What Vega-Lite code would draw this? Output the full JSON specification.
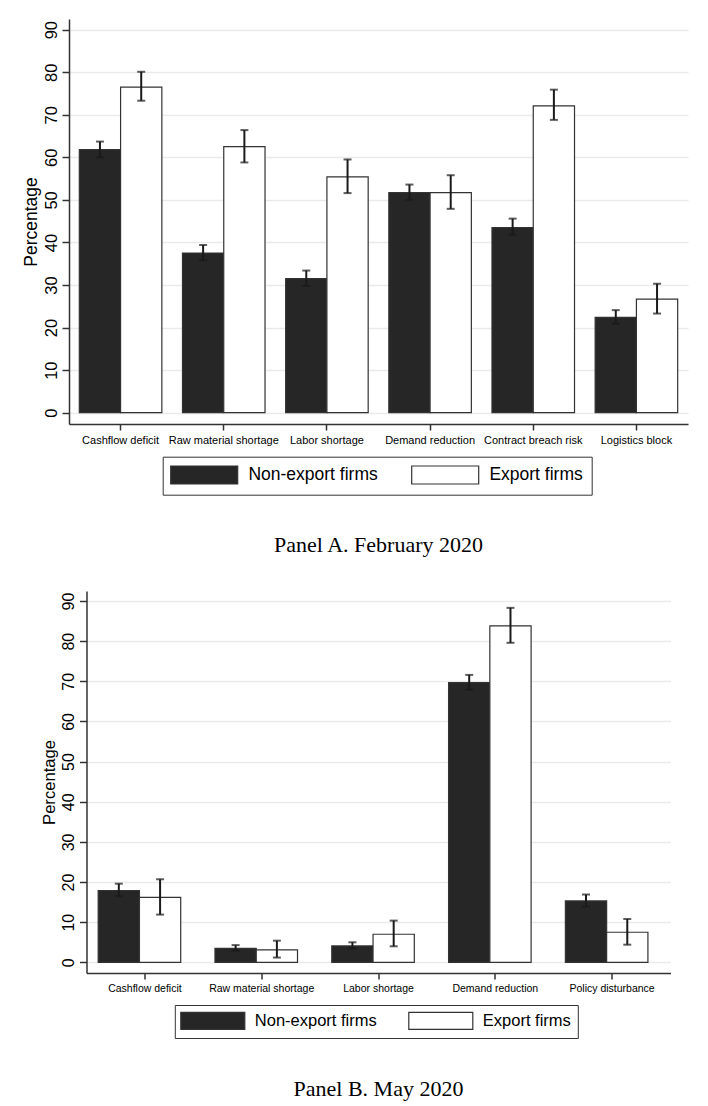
{
  "$schema": "https://vega.github.io/schema/vega-lite/v6.json",
  "padding": {"top": 19, "left": 22, "right": 5, "bottom": 5},
  "background": "white",
  "center": true,
  "spacing": 34,
  "datasets": {
    "feb": [
      {"cat": "Cashflow deficit", "grp": "Non-export firms", "pct": 61.8, "lo": 60.0, "hi": 63.7},
      {"cat": "Cashflow deficit", "grp": "Export firms", "pct": 76.5, "lo": 73.3, "hi": 80.1},
      {"cat": "Raw material shortage", "grp": "Non-export firms", "pct": 37.5, "lo": 35.8, "hi": 39.4},
      {"cat": "Raw material shortage", "grp": "Export firms", "pct": 62.5, "lo": 58.8, "hi": 66.4},
      {"cat": "Labor shortage", "grp": "Non-export firms", "pct": 31.5, "lo": 29.8, "hi": 33.4},
      {"cat": "Labor shortage", "grp": "Export firms", "pct": 55.4, "lo": 51.6, "hi": 59.5},
      {"cat": "Demand reduction", "grp": "Non-export firms", "pct": 51.7, "lo": 50.0, "hi": 53.6},
      {"cat": "Demand reduction", "grp": "Export firms", "pct": 51.7, "lo": 47.9, "hi": 55.8},
      {"cat": "Contract breach risk", "grp": "Non-export firms", "pct": 43.5, "lo": 41.8, "hi": 45.6},
      {"cat": "Contract breach risk", "grp": "Export firms", "pct": 72.1, "lo": 68.8, "hi": 75.9},
      {"cat": "Logistics block", "grp": "Non-export firms", "pct": 22.4, "lo": 20.9, "hi": 24.1},
      {"cat": "Logistics block", "grp": "Export firms", "pct": 26.7, "lo": 23.3, "hi": 30.3}
    ],
    "may": [
      {"cat": "Cashflow deficit", "grp": "Non-export firms", "pct": 17.9, "lo": 16.5, "hi": 19.6},
      {"cat": "Cashflow deficit", "grp": "Export firms", "pct": 16.2, "lo": 11.9, "hi": 20.7},
      {"cat": "Raw material shortage", "grp": "Non-export firms", "pct": 3.5, "lo": 2.9, "hi": 4.3},
      {"cat": "Raw material shortage", "grp": "Export firms", "pct": 3.1, "lo": 1.2, "hi": 5.4},
      {"cat": "Labor shortage", "grp": "Non-export firms", "pct": 4.1, "lo": 3.5, "hi": 5.0},
      {"cat": "Labor shortage", "grp": "Export firms", "pct": 7.0, "lo": 4.0, "hi": 10.4},
      {"cat": "Demand reduction", "grp": "Non-export firms", "pct": 69.7, "lo": 67.9, "hi": 71.6},
      {"cat": "Demand reduction", "grp": "Export firms", "pct": 83.8, "lo": 79.6, "hi": 88.3},
      {"cat": "Policy disturbance", "grp": "Non-export firms", "pct": 15.3, "lo": 13.9, "hi": 16.9},
      {"cat": "Policy disturbance", "grp": "Export firms", "pct": 7.5, "lo": 4.4, "hi": 10.8}
    ]
  },
  "vconcat": [
    {
      "width": 619,
      "height": 405,
      "data": {"name": "feb"},
      "title": {"text": "Panel A. February 2020", "orient": "bottom", "anchor": "middle", "font": "Liberation Serif", "fontSize": 22, "fontWeight": "normal", "color": "black", "offset": 40},
      "encoding": {
        "x": {"field": "cat", "type": "nominal", "sort": ["Cashflow deficit", "Raw material shortage", "Labor shortage", "Demand reduction", "Contract breach risk", "Logistics block"],
              "scale": {"paddingInner": 0.2, "paddingOuter": 0.1},
              "axis": {"title": null, "labelAngle": 0, "labelFontSize": 11, "labelLimit": 0, "tickSize": 6, "labelPadding": 4, "domainWidth": 1.5, "tickWidth": 1.5}},
        "xOffset": {"field": "grp", "type": "nominal", "sort": ["Non-export firms", "Export firms"], "scale": {"paddingInner": 0, "paddingOuter": 0}}
      },
      "layer": [
        {
          "mark": {"type": "bar", "stroke": "#333", "strokeWidth": 1.2},
          "encoding": {
            "y": {"field": "pct", "type": "quantitative", "title": "Percentage",
                  "scale": {"domain": [-2.65, 92.5], "nice": false, "zero": false},
                  "axis": {"values": [0, 10, 20, 30, 40, 50, 60, 70, 80, 90], "grid": true, "gridColor": "#eaeaea", "gridWidth": 1.5, "tickSize": 7, "tickWidth": 1.5, "domainWidth": 1.5, "labelAngle": 270, "labelAlign": "center", "labelBaseline": "bottom", "labelFontSize": 16.5, "labelPadding": 3, "titleFontSize": 17.5, "titlePadding": 3}},
            "y2": {"datum": 0},
            "color": {"field": "grp", "type": "nominal", "sort": ["Non-export firms", "Export firms"],
                      "scale": {"domain": ["Non-export firms", "Export firms"], "range": ["#262626", "#ffffff"]},
                      "legend": {"orient": "none", "legendX": 93.7, "legendY": 437.7, "direction": "horizontal", "columns": 2, "title": null,
                                 "symbolType": "M-3.722,-1H3.722V1H-3.722Z", "symbolSize": 324, "symbolStrokeColor": "#333", "symbolStrokeWidth": 1.2,
                                 "symbolOffset": 23.5, "labelOffset": 34.2, "columnPadding": 30, "labelFontSize": 17.5, "labelFont": "Liberation Sans",
                                 "labelColor": "black", "labelLimit": 0, "strokeColor": "#333", "padding": 8, "fillColor": "white"}}
          }
        },
        {
          "mark": {"type": "rule", "strokeWidth": 2, "color": "#1a1a1a"},
          "encoding": {
            "y": {"field": "lo", "type": "quantitative", "title": "Percentage", "scale": {"domain": [-2.65, 92.5], "nice": false, "zero": false}},
            "y2": {"field": "hi"}
          }
        },
        {
          "mark": {"type": "tick", "size": 8, "thickness": 2, "color": "#1a1a1a", "orient": "horizontal"},
          "encoding": {
            "y": {"field": "lo", "type": "quantitative", "title": "Percentage", "scale": {"domain": [-2.65, 92.5], "nice": false, "zero": false}}
          }
        },
        {
          "mark": {"type": "tick", "size": 8, "thickness": 2, "color": "#1a1a1a", "orient": "horizontal"},
          "encoding": {
            "y": {"field": "hi", "type": "quantitative", "title": "Percentage", "scale": {"domain": [-2.65, 92.5], "nice": false, "zero": false}}
          }
        }
      ]
    },
    {
      "width": 584,
      "height": 382,
      "data": {"name": "may"},
      "title": {"text": "Panel B. May 2020", "orient": "bottom", "anchor": "middle", "font": "Liberation Serif", "fontSize": 22, "fontWeight": "normal", "color": "black", "offset": 40},
      "encoding": {
        "x": {"field": "cat", "type": "nominal", "sort": ["Cashflow deficit", "Raw material shortage", "Labor shortage", "Demand reduction", "Policy disturbance"],
              "scale": {"paddingInner": 0.2, "paddingOuter": 0.1},
              "axis": {"title": null, "labelAngle": 0, "labelFontSize": 10.5, "labelLimit": 0, "tickSize": 6, "labelPadding": 4, "domainWidth": 1.5, "tickWidth": 1.5}},
        "xOffset": {"field": "grp", "type": "nominal", "sort": ["Non-export firms", "Export firms"], "scale": {"paddingInner": 0, "paddingOuter": 0}}
      },
      "layer": [
        {
          "mark": {"type": "bar", "stroke": "#333", "strokeWidth": 1.2},
          "encoding": {
            "y": {"field": "pct", "type": "quantitative", "title": "Percentage",
                  "scale": {"domain": [-2.65, 92.5], "nice": false, "zero": false},
                  "axis": {"values": [0, 10, 20, 30, 40, 50, 60, 70, 80, 90], "grid": true, "gridColor": "#eaeaea", "gridWidth": 1.5, "tickSize": 7, "tickWidth": 1.5, "domainWidth": 1.5, "labelAngle": 270, "labelAlign": "center", "labelBaseline": "bottom", "labelFontSize": 16, "labelPadding": 3, "titleFontSize": 16.6, "titlePadding": 3}},
            "y2": {"datum": 0},
            "color": {"field": "grp", "type": "nominal", "sort": ["Non-export firms", "Export firms"],
                      "scale": {"domain": ["Non-export firms", "Export firms"], "range": ["#262626", "#ffffff"]},
                      "legend": {"orient": "none", "legendX": 88.3, "legendY": 414, "direction": "horizontal", "columns": 2, "title": null,
                                 "symbolType": "M-3.765,-1H3.765V1H-3.765Z", "symbolSize": 289, "symbolStrokeColor": "#333", "symbolStrokeWidth": 1.2,
                                 "symbolOffset": 22.5, "labelOffset": 32.5, "columnPadding": 29, "labelFontSize": 16.5, "labelFont": "Liberation Sans",
                                 "labelColor": "black", "labelLimit": 0, "strokeColor": "#333", "padding": 6, "fillColor": "white"}}
          }
        },
        {
          "mark": {"type": "rule", "strokeWidth": 2, "color": "#1a1a1a"},
          "encoding": {
            "y": {"field": "lo", "type": "quantitative", "title": "Percentage", "scale": {"domain": [-2.65, 92.5], "nice": false, "zero": false}},
            "y2": {"field": "hi"}
          }
        },
        {
          "mark": {"type": "tick", "size": 8, "thickness": 2, "color": "#1a1a1a", "orient": "horizontal"},
          "encoding": {
            "y": {"field": "lo", "type": "quantitative", "title": "Percentage", "scale": {"domain": [-2.65, 92.5], "nice": false, "zero": false}}
          }
        },
        {
          "mark": {"type": "tick", "size": 8, "thickness": 2, "color": "#1a1a1a", "orient": "horizontal"},
          "encoding": {
            "y": {"field": "hi", "type": "quantitative", "title": "Percentage", "scale": {"domain": [-2.65, 92.5], "nice": false, "zero": false}}
          }
        }
      ]
    }
  ],
  "resolve": {"scale": {"color": "independent", "x": "independent", "y": "independent"}, "legend": {"color": "independent"}},
  "config": {
    "font": "Liberation Sans",
    "view": {"stroke": null},
    "axis": {"labelFont": "Liberation Sans", "titleFont": "Liberation Sans", "labelColor": "black", "titleColor": "black", "domainColor": "#333", "tickColor": "#333", "titleFontWeight": "normal"}
  }
}
